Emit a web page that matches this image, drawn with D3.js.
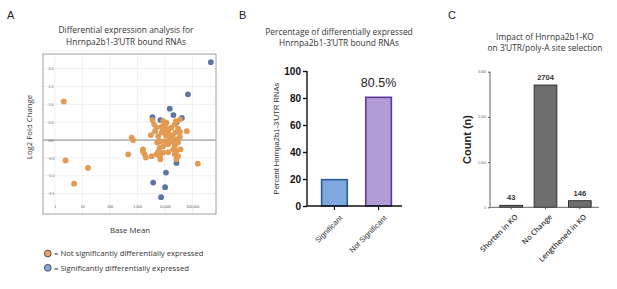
<!DOCTYPE html>
<html><head><meta charset="utf-8">
<script src="https://cdn.jsdelivr.net/npm/d3@7"></script>
<style>body{margin:0;background:#fff}svg{display:block}</style>
</head><body>
<svg id="c" width="617" height="289"></svg>
<script>
// ---------- Panel A data ----------
const nsBaseMean = [2.1,2.45,5.0,16,620,700,465,1600,1860,2040,3300,5000,6600,3550,4070,5000,3100,8700,10000,11500,7600,13200,17400,22900,30200,35500,19000,15100,10000,6600,5250,6600,5750,8700,13200,20000,22900,26300,22900,30200,37200,26300,63000,158000,11500,14500,8700,11000,17400,21400,13200,8700,26300,17400,24000,35500,7600,4400,5750,30200,35500,25100,1600,6900];
const nsLog2FC   = [1.08,-0.57,-1.22,-0.78,0.07,0.0,-0.40,-0.31,-0.40,-0.49,-0.45,-0.40,-0.45,0.56,0.44,0.35,0.14,0.53,0.39,0.25,0.21,0.21,0.35,0.44,0.32,0.23,0.13,0.02,-0.03,-0.03,-0.07,-0.21,-0.31,-0.35,-0.34,-0.26,-0.40,-0.54,-0.17,-0.07,-0.26,0.02,0.25,-0.66,0.49,0.32,0.30,0.13,-0.03,-0.07,-0.12,-0.17,-0.31,0.09,0.21,0.09,0.37,0.25,0.11,-0.45,0.58,0.53,-0.26,-0.54];
const sigBaseMean = [470000,69000,15000,20500,3550,6900,41500,26500,26500,11000,3750,10200,7300];
const sigLog2FC   = [2.18,1.28,0.88,0.70,0.64,0.56,0.62,0.49,-0.64,-0.91,-1.19,-1.32,-1.60];
const aXTicks = [1,10,100,1000,10000,100000];
const aYTicks = [-1.5,-1.0,-0.5,0.0,0.5,1.0,1.5,2.0];
const legendLabels = ["= Not significantly differentially expressed","= Significantly differentially expressed"];

// ---------- Panel B data ----------
const bCategories = ["Significant","Not Significant"];
const bValues = [19.5,80.5];
const bYTicks = [0,20,40,60,80,100];

// ---------- Panel C data ----------
const cCategories = ["Shorten in KO","No Change","Lengthened in KO"];
const cValues = [43,2704,146];
const cYTicks = [0,1000,2000,3000];

const svg = d3.select("#c");
svg.append("rect").attr("width",617).attr("height",289).attr("fill","#fff");
const hum = "'Open Sans', Lato, sans-serif";
const arial = "'Liberation Sans', Arial, sans-serif";

// panel letters
[["A",7,19],["B",239,19],["C",448,19]].forEach(([t,x,y])=>{
  svg.append("text").attr("x",x).attr("y",y).text(t).attr("font-family",arial).attr("font-size",11).attr("fill","#222");
});

// ================= Panel A =================
{
  const L=43,R=216,T=54,B=214;
  const x = d3.scaleLog().domain([0.37, 10**5.86]).range([L,R]);
  const y = d3.scaleLinear().domain([-2.07,2.41]).range([B,T]);
  const g = svg.append("g");
  g.append("text").attr("x",126).attr("y",33).attr("text-anchor","middle").attr("font-family",hum).attr("font-size",8.4).attr("fill","#333").text("Differential expression analysis for");
  g.append("text").attr("x",126).attr("y",44.5).attr("text-anchor","middle").attr("font-family",hum).attr("font-size",8.4).attr("fill","#333").text("Hnrnpa2b1-3’UTR bound RNAs");
  // grid
  g.selectAll(".vg").data(aXTicks).join("line").attr("x1",d=>x(d)).attr("x2",d=>x(d)).attr("y1",T).attr("y2",B).attr("stroke","#ececec").attr("stroke-width",0.8);
  g.selectAll(".hg").data(aYTicks.concat([2.5])).join("line").attr("x1",L).attr("x2",R).attr("y1",d=>y(d)).attr("y2",d=>y(d)).attr("stroke","#ececec").attr("stroke-width",0.8);
  g.append("line").attr("x1",L).attr("x2",R).attr("y1",y(0)).attr("y2",y(0)).attr("stroke","#8a8a8a").attr("stroke-width",1);
  g.append("rect").attr("x",L).attr("y",T).attr("width",R-L).attr("height",B-T).attr("fill","none").attr("stroke","#a0a0a0").attr("stroke-width",1);
  // axes via d3
  const xa = d3.axisBottom(x).tickValues(aXTicks).tickFormat(d3.format(",")).tickSize(0).tickPadding(-6);
  const xg = g.append("g").attr("transform",`translate(0,${B})`).call(xa);
  xg.select(".domain").remove();
  xg.selectAll("text").attr("font-family",arial).attr("font-size",3.6).attr("fill","#555").attr("dy","0");
  const ya = d3.axisLeft(y).tickValues(aYTicks).tickFormat(d3.format(".1f")).tickSize(0).tickPadding(-8);
  const yg = g.append("g").attr("transform",`translate(${L},0)`).call(ya);
  yg.select(".domain").remove();
  yg.selectAll("text").attr("font-family",arial).attr("font-size",3.6).attr("fill","#555").attr("text-anchor","middle").attr("dx","0");
  // points
  const sig = sigBaseMean.map((v,i)=>[v,sigLog2FC[i]]);
  const ns = nsBaseMean.map((v,i)=>[v,nsLog2FC[i]]);
  g.selectAll(".s").data(sig).join("circle").attr("cx",d=>x(d[0])).attr("cy",d=>y(d[1])).attr("r",2.9).attr("fill","#5b74a3");
  g.selectAll(".n").data(ns).join("circle").attr("cx",d=>x(d[0])).attr("cy",d=>y(d[1])).attr("r",2.9).attr("fill","#e39a52");
  g.append("text").attr("x",130).attr("y",233).attr("text-anchor","middle").attr("font-family",hum).attr("font-size",7.8).attr("fill","#333").text("Base Mean");
  g.append("text").attr("transform","translate(32,127) rotate(-90)").attr("text-anchor","middle").attr("font-family",hum).attr("font-size",7.8).attr("fill","#333").text("Log2 Fold Change");
  // legend
  const lc = ["#e6a266","#7faad8"];
  legendLabels.forEach((t,i)=>{
    const yy = 253.5 + i*14.3;
    g.append("circle").attr("cx",47.8).attr("cy",yy).attr("r",3.4).attr("fill",lc[i]).attr("stroke","#333").attr("stroke-width",0.8);
    g.append("text").attr("x",54).attr("y",yy+2.8).attr("font-family",hum).attr("font-size",7.7).attr("fill","#333").text(t);
  });
}

// ================= Panel B =================
{
  const L=307,R=402,T=71,B=206;
  const x = d3.scaleBand().domain(bCategories).range([L+8,R-4]).paddingInner(0.42).paddingOuter(0.15);
  const y = d3.scaleLinear().domain([0,100]).range([B,T]);
  const g = svg.append("g");
  g.append("text").attr("x",339).attr("y",35).attr("text-anchor","middle").attr("font-family",hum).attr("font-size",8.4).attr("fill","#333").text("Percentage of differentially expressed");
  g.append("text").attr("x",339).attr("y",46).attr("text-anchor","middle").attr("font-family",hum).attr("font-size",8.4).attr("fill","#333").text("Hnrnpa2b1-3’UTR bound RNAs");
  const fills = ["#80a8e0","#b09bd2"], strokes=["#2c5a9c","#5a3a9c"];
  g.selectAll(".b").data(bValues).join("rect")
    .attr("x",(d,i)=>x(bCategories[i])).attr("width",x.bandwidth())
    .attr("y",d=>y(d)).attr("height",d=>B-y(d))
    .attr("fill",(d,i)=>fills[i]).attr("stroke",(d,i)=>strokes[i]).attr("stroke-width",1.6);
  const ya = d3.axisLeft(y).tickValues(bYTicks).tickSize(4).tickPadding(2);
  const yg = g.append("g").attr("transform",`translate(${L},0)`).call(ya);
  yg.select(".domain").attr("stroke","#111").attr("stroke-width",1.4).attr("d",`M0,${T}V${B}`);
  yg.selectAll(".tick line").attr("stroke","#111").attr("stroke-width",1.4);
  yg.selectAll("text").attr("font-family",arial).attr("font-weight","bold").attr("font-size",10).attr("fill","#111");
  const xa = d3.axisBottom(x).tickSize(4).tickPadding(3);
  const xg = g.append("g").attr("transform",`translate(0,${B})`).call(xa);
  xg.select(".domain").attr("stroke","#111").attr("stroke-width",1.4).attr("d",`M${L},0H${R}`);
  xg.selectAll(".tick line").attr("stroke","#111").attr("stroke-width",1.2);
  xg.selectAll("text").attr("font-family",arial).attr("font-size",7.6).attr("fill","#333")
    .attr("text-anchor","end").attr("dy","0.3em").attr("transform","translate(2,6) rotate(-45)");
  g.append("text").attr("transform",`translate(279,${(T+B)/2}) rotate(-90)`).attr("text-anchor","middle").attr("font-family",arial).attr("font-size",7.6).attr("fill","#333").text("Percent Hnrnpa2b1-3’UTR RNAs");
  g.append("text").attr("x",x(bCategories[1])+x.bandwidth()/2).attr("y",y(bValues[1])-10).attr("text-anchor","middle").attr("font-family",arial).attr("font-size",12.5).attr("fill","#222").text(bValues[1]+"%");
}

// ================= Panel C =================
{
  const L=490,R=599,T=71.7,B=207.3;
  const x = d3.scaleBand().domain(cCategories).range([L+3,R-1]).paddingInner(0.34).paddingOuter(0.2);
  const y = d3.scaleLinear().domain([0,3000]).range([B,T]);
  const g = svg.append("g");
  g.append("text").attr("x",545).attr("y",40).attr("text-anchor","middle").attr("font-family",hum).attr("font-size",8.4).attr("fill","#333").text("Impact of Hnrnpa2b1-KO");
  g.append("text").attr("x",545).attr("y",51).attr("text-anchor","middle").attr("font-family",hum).attr("font-size",8.4).attr("fill","#333").text("on 3’UTR/poly-A site selection");
  g.selectAll(".b").data(cValues).join("rect")
    .attr("x",(d,i)=>x(cCategories[i])).attr("width",x.bandwidth())
    .attr("y",d=>y(d)).attr("height",d=>B-y(d))
    .attr("fill","#6c6e70").attr("stroke","#2f2f2f").attr("stroke-width",1);
  g.selectAll(".v").data(cValues).join("text")
    .attr("x",(d,i)=>x(cCategories[i])+x.bandwidth()/2).attr("y",d=>y(d)-5)
    .attr("text-anchor","middle").attr("font-family",arial).attr("font-weight","bold").attr("font-size",7.5).attr("fill","#333").text(d=>d);
  const ya = d3.axisLeft(y).tickValues(cYTicks).tickSize(2).tickPadding(2);
  const yg = g.append("g").attr("transform",`translate(${L},0)`).call(ya);
  yg.select(".domain").attr("stroke","#555").attr("stroke-width",0.9).attr("d",`M0,${T}V${B}`);
  yg.selectAll(".tick line").attr("stroke","#555");
  yg.selectAll("text").attr("font-family",arial).attr("font-size",3.2).attr("fill","#555");
  const xa = d3.axisBottom(x).tickSize(2).tickPadding(3);
  const xg = g.append("g").attr("transform",`translate(0,${B})`).call(xa);
  xg.select(".domain").attr("stroke","#555").attr("stroke-width",0.9).attr("d",`M${L},0H${R}`);
  xg.selectAll(".tick line").attr("stroke","#555");
  xg.selectAll("text").attr("font-family",hum).attr("font-weight","600").attr("font-size",7.4).attr("fill","#333")
    .attr("text-anchor","end").attr("dy","0.3em").attr("transform","translate(2,5) rotate(-45)");
  g.append("text").attr("transform",`translate(471,${(T+B)/2}) rotate(-90)`).attr("text-anchor","middle").attr("font-family",arial).attr("font-weight","bold").attr("font-size",11).attr("fill","#222").text("Count (n)");
}
</script>
</body></html>
